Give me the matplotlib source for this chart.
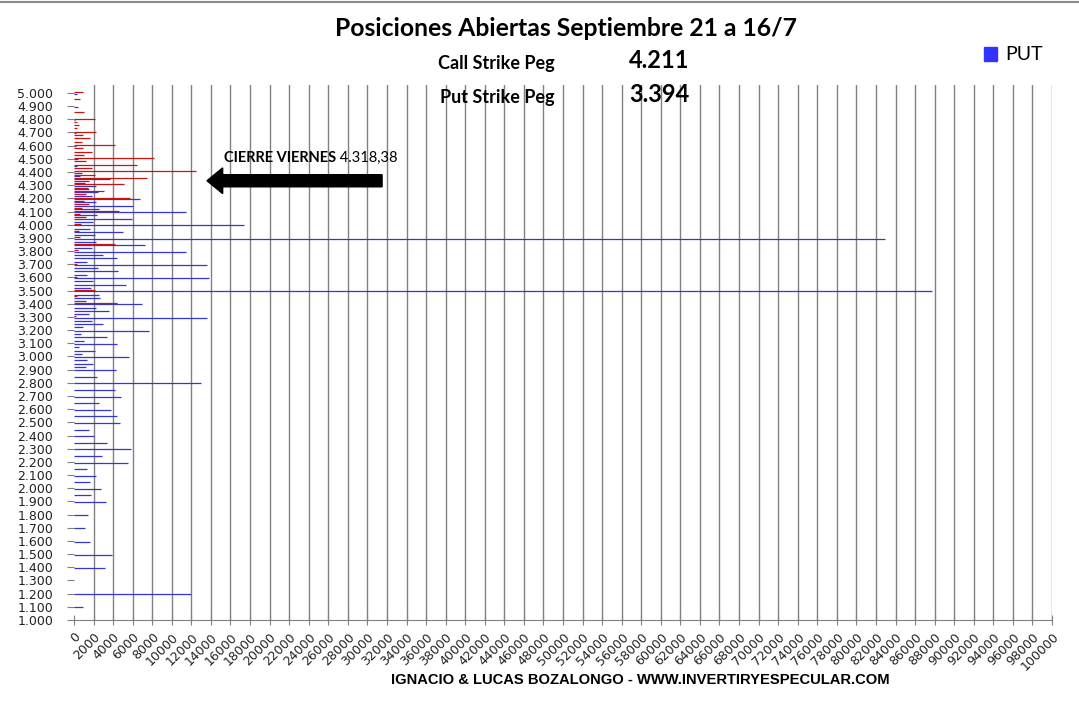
import matplotlib
matplotlib.use("Agg")
import matplotlib.pyplot as plt
from matplotlib.lines import Line2D
from matplotlib.patches import FancyArrow
from matplotlib.ticker import FuncFormatter

# ----------------------------------------------------------------------------
# Data: open interest per strike (contracts)
# ----------------------------------------------------------------------------
put_strikes = [1100, 1200, 1400, 1500, 1600, 1700, 1800, 1900, 1950, 2000,
               2050, 2100, 2150, 2200, 2250, 2300, 2350, 2400, 2450, 2500,
               2550, 2600, 2650, 2700, 2750, 2800, 2850, 2900, 2925, 2950,
               2975, 3000, 3025, 3050, 3075, 3100, 3125, 3150, 3175, 3200,
               3225, 3250, 3275, 3300, 3325, 3350, 3375, 3400, 3425, 3450,
               3475, 3500, 3525, 3550, 3575, 3600, 3625, 3650, 3675, 3700,
               3725, 3750, 3775, 3800, 3825, 3850, 3875, 3900, 3925, 3950,
               3975, 4000, 4025, 4050, 4075, 4100, 4125, 4150, 4175, 4200,
               4225, 4250, 4275, 4300, 4325, 4350, 4375, 4400, 4450, 4500,
               4600, 4700, 4800, 4900, 5000]
put_oi = [900, 12000, 3150, 3850, 1650, 1100, 1400, 3250, 1700, 2800,
          1650, 2200, 1300, 5500, 2900, 5800, 3350, 2000, 1550, 4750,
          4350, 3750, 2600, 4850, 4150, 13000, 2400, 4250, 1200, 1900,
          1300, 5600, 800, 2100, 500, 4400, 1000, 3350, 700, 7650,
          900, 3000, 1800, 13600, 1500, 3600, 2200, 7000, 1200, 2700,
          2600, 87700, 1700, 5300, 1950, 13800, 1300, 4550, 2500, 13600,
          1350, 4400, 3000, 11450, 1800, 7250, 2200, 82900, 2100, 5000,
          1600, 17350, 1900, 5900, 2400, 11450, 2600, 6000, 2300, 6750,
          1800, 2500, 1500, 2200, 1100, 3700, 600, 800, 300, 400,
          200, 200, 100, 400, 300]

call_strikes = [3300, 3400, 3450, 3500, 3600, 3700, 3800, 3850, 3900, 3950,
                4000, 4050, 4075, 4100, 4125, 4150, 4175, 4200, 4225, 4250,
                4275, 4300, 4325, 4350, 4375, 4400, 4425, 4450, 4475, 4500,
                4525, 4550, 4575, 4600, 4625, 4650, 4675, 4700, 4725, 4750,
                4775, 4800, 4850, 4950, 5000]
call_oi = [200, 4350, 300, 2150, 300, 300, 400, 4200, 600, 500,
           700, 1200, 600, 4600, 800, 1500, 1000, 5700, 1200, 3050,
           1400, 5100, 1500, 7450, 2150, 12450, 1850, 6400, 1200, 8150,
           1000, 1850, 900, 4200, 800, 1650, 900, 2250, 300, 500,
           300, 2100, 1000, 600, 900]

call_peg = "4.211"
put_peg = "3.394"
close_level = 4318.38

# ----------------------------------------------------------------------------
# Figure
# ----------------------------------------------------------------------------
W, H = 1079, 712
fig = plt.figure(figsize=(W / 100, H / 100), dpi=100)
ax = fig.add_axes([74 / W, 1 - 620 / H, (1052 - 74) / W, (620 - 85) / H])

off = 5  # puts sit just below the strike, calls just above
ax.hlines([s - off for s in put_strikes], 0, put_oi, color="#3535D0",
          lw=0.9, zorder=3)
ax.hlines([s + off for s in call_strikes], 0, call_oi, color="#CC1111",
          lw=0.9, zorder=3)

ax.set_xlim(0, 100000)
ax.set_ylim(1000, 5060)

xt = list(range(0, 100001, 2000))
ax.set_xticks(xt)
ax.set_xticklabels([str(v) for v in xt], rotation=45, ha="right", va="top",
                   rotation_mode="anchor", fontsize=9, color="#222222")
ax.set_yticks(range(1000, 5001, 100))
ax.yaxis.set_major_formatter(FuncFormatter(lambda v, p: f"{v/1000:.3f}"))
ax.tick_params(axis="x", direction="inout", length=7, color="#808080", pad=4)
ax.tick_params(axis="y", direction="out", length=5, color="#808080",
               labelsize=9, labelcolor="#222222", pad=10)

ax.grid(axis="x", color="#808080", lw=1, zorder=0)
ax.get_xgridlines()[0].set_visible(False)
for side in ("top", "right", "left"):
    ax.spines[side].set_visible(False)
ax.spines["bottom"].set_color("#808080")

# arrow + closing label
ax.add_patch(FancyArrow(31500, close_level + 15, 13600 - 31500, 0, width=92,
                        head_width=195, head_length=1600,
                        length_includes_head=True, color="black", zorder=5))
calib = ["Lato", "DejaVu Sans"]
t1 = ax.text(15300, 4505, "CIERRE VIERNES", fontsize=10.5, fontweight="bold",
             family=calib, va="center", ha="left", zorder=6)
close_txt = f"{close_level:,.2f}".replace(",", "X").replace(".", ",").replace("X", ".")
ax.annotate(" " + close_txt, xy=(1, 0), xycoords=t1, va="bottom", ha="left",
            fontsize=10.5, family=calib, zorder=6)

# titles
fig.text(566 / W, 1 - 28 / H, "Posiciones Abiertas Septiembre 21 a 16/7",
         ha="center", va="center", fontsize=17.8, fontweight="bold", family=calib)
fig.text(438 / W, 1 - 63 / H, "Call Strike Peg", ha="left", va="center",
         fontsize=13, fontweight="bold", family=calib)
fig.text(629 / W, 1 - 61 / H, call_peg, ha="left", va="center",
         fontsize=17, fontweight="bold", family=calib)
fig.text(440 / W, 1 - 97 / H, "Put Strike Peg", ha="left", va="center",
         fontsize=13, fontweight="bold", family=calib)
fig.text(629 / W, 1 - 95 / H, put_peg, ha="left", va="center",
         fontsize=17, fontweight="bold", family=calib)
fig.text(640 / W, 1 - 680 / H,
         "IGNACIO & LUCAS BOZALONGO - WWW.INVERTIRYESPECULAR.COM",
         ha="center", va="center", fontsize=10.6, fontweight="bold",
         family=["Liberation Sans", "DejaVu Sans"])

put_handle = plt.Rectangle((0, 0), 1, 1, color="#3333FF")
fig.legend(handles=[put_handle], labels=["PUT"], loc="center left",
           bbox_to_anchor=(966 / W, 1 - 55 / H), frameon=False,
           handlelength=0.7, handleheight=0.7, handletextpad=0.4,
           prop={"family": calib, "size": 14})

fig.add_artist(Line2D([0, 1], [1 - 1.5 / H] * 2, color="#8A8A8A", lw=1.5))

fig.savefig("out.png", dpi=100)
